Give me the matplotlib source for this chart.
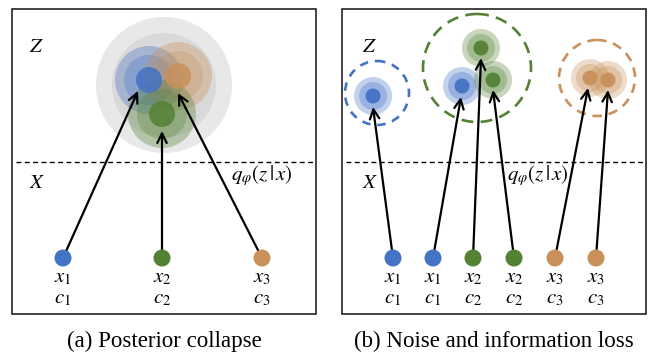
import matplotlib.pyplot as plt
from matplotlib.patches import Circle, Rectangle

plt.rcParams['font.family'] = ['Liberation Serif', 'DejaVu Serif']
plt.rcParams['mathtext.fontset'] = 'stix'

# colours of the three classes
blue = '#4472C4'
green = '#548235'
orange = '#C8915A'

# panel (a): inputs and their collapsed posteriors
a_x = [63, 162, 262]
a_colors = [blue, green, orange]
a_labels = [('x_1', 'c_1'), ('x_2', 'c_2'), ('x_3', 'c_3')]
a_means = [(149, 80), (162, 114), (178, 76)]
a_tips = [(138, 91), (162, 131), (178, 93)]
a_halo = [34, 25]

# panel (b): inputs and their posteriors
b_x = [393, 433, 473, 514, 555, 596]
b_colors = [blue, blue, green, green, orange, orange]
b_labels = [('x_1', 'c_1'), ('x_1', 'c_1'), ('x_2', 'c_2'),
            ('x_2', 'c_2'), ('x_3', 'c_3'), ('x_3', 'c_3')]
b_means = [(373, 96), (462, 86), (481, 48), (493, 80), (590, 78), (608, 80)]
b_tips = [(373, 107), (461, 97), (481, 58), (493, 90), (588, 88), (608, 90)]
b_halo = [19, 14]
# dashed class regions: centre x, centre y, radius, colour, dash
b_regions = [(377, 93, 32, blue, (0, (3.2, 2.6))),
             (477, 68, 54, green, (0, (4.5, 2.8))),
             (597, 78, 38, orange, (0, (3.6, 2.6)))]

point_y = 258

fig = plt.figure(figsize=(6.48, 3.53), dpi=100)
ax = fig.add_axes([0, 0, 1, 1])
ax.set_xlim(0, 648)
ax.set_ylim(353, 0)
ax.axis('off')

# panel frames and dashed separators
for x0 in [12, 342]:
    ax.add_patch(Rectangle((x0, 9), 304, 305, fill=False, ec='#222222', lw=1.2))
    ax.plot([x0 + 4, x0 + 301], [162, 162], color='black', lw=1.0,
            ls=(0, (3.5, 2.5)))

# panel (a) grey prior
ax.add_patch(Circle((164, 85), 68, color='#E8E8E8', lw=0))
ax.add_patch(Circle((164, 85), 52, color='#D9D9D9', lw=0))

# halos then cores
for i in [0, 2, 1]:
    cx, cy = a_means[i]
    c = a_colors[i]
    ax.add_patch(Circle((cx, cy), a_halo[0], color=c, alpha=0.35, lw=0))
    ax.add_patch(Circle((cx, cy), a_halo[1], color=c, alpha=0.3, lw=0))
for i in [0, 2, 1]:
    cx, cy = a_means[i]
    ax.add_patch(Circle((cx, cy), 13, color=a_colors[i], alpha=0.85, lw=0))

for (cx, cy, r, c, dash) in b_regions:
    ax.add_patch(Circle((cx, cy), r, fill=False, ec=c, lw=1.9, ls=dash))
for (cx, cy), c in zip(b_means, b_colors):
    ax.add_patch(Circle((cx, cy), b_halo[0], color=c, alpha=0.32, lw=0))
    ax.add_patch(Circle((cx, cy), b_halo[1], color=c, alpha=0.32, lw=0))
for (cx, cy), c in zip(b_means, b_colors):
    ax.add_patch(Circle((cx, cy), 7.5, color=c, alpha=0.95, lw=0))

# arrows, input points and labels
for xs, tips, cols, labs in [(a_x, a_tips, a_colors, a_labels),
                             (b_x, b_tips, b_colors, b_labels)]:
    for x, tip, c, (l1, l2) in zip(xs, tips, cols, labs):
        ax.annotate('', xy=tip, xytext=(x, point_y),
                    arrowprops=dict(arrowstyle='->', color='black', lw=1.6,
                                    mutation_scale=17, shrinkA=0, shrinkB=0))
        ax.add_patch(Circle((x, point_y), 8.5, color=c, lw=0, zorder=5))
        ax.text(x, 278, '$' + l1 + '$', ha='center', va='center', fontsize=15)
        ax.text(x, 299, '$' + l2 + '$', ha='center', va='center', fontsize=15)

for x0 in [0, 333]:
    ax.text(36 + x0, 48, '$Z$', ha='center', va='center', fontsize=15)
    ax.text(37 + x0, 183, '$X$', ha='center', va='center', fontsize=15)

ax.text(262, 176, r'$q_\varphi(z\,|\,x)$', ha='center', va='center', fontsize=15)
ax.text(538, 176, r'$q_\varphi(z\,|\,x)$', ha='center', va='center', fontsize=15)

ax.text(164, 341, '(a) Posterior collapse', ha='center', va='center', fontsize=16.5)
ax.text(494, 341, '(b) Noise and information loss', ha='center', va='center',
        fontsize=16.5)

fig.savefig('out.png', dpi=100)
